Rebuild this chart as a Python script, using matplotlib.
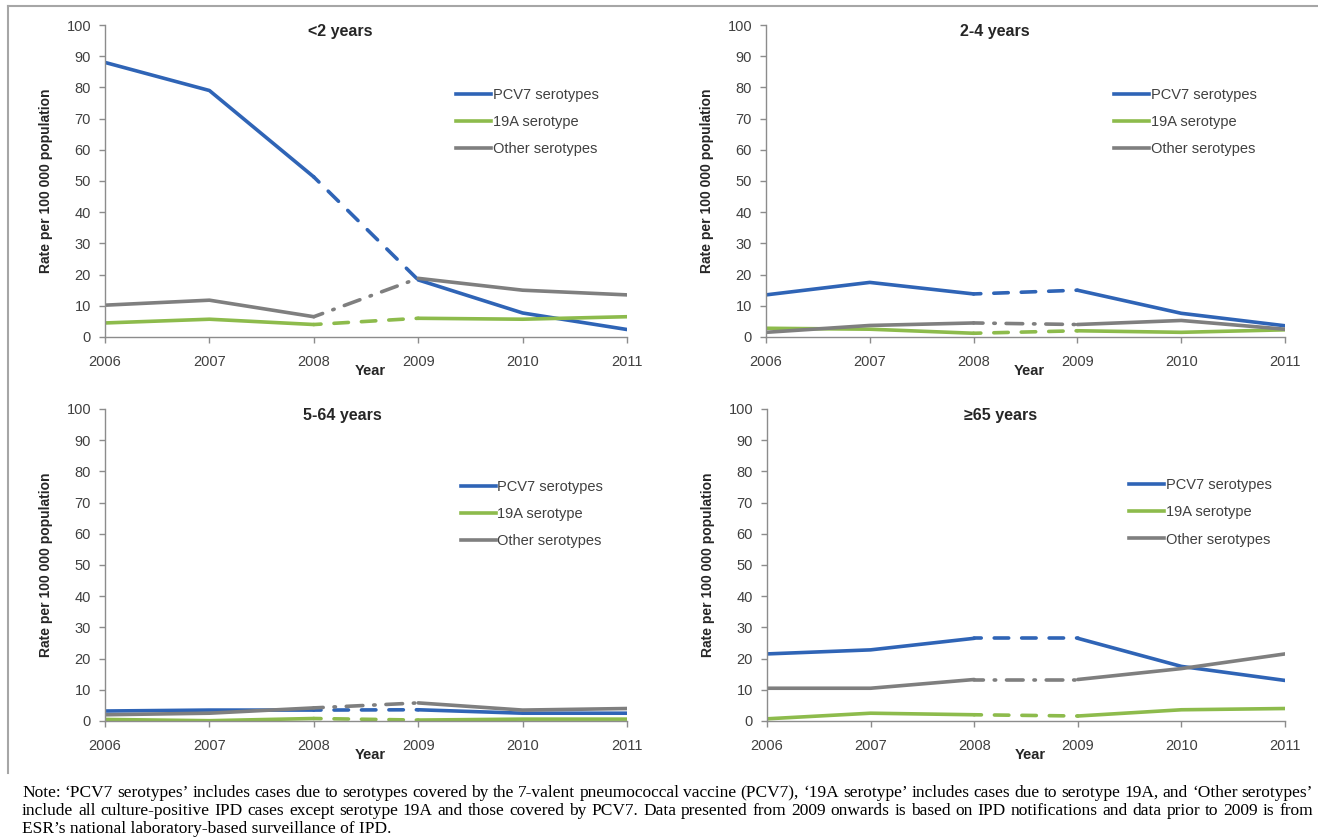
"""
Invasive pneumococcal disease rates by serotype group and age group, 2006-2011.
"""

import matplotlib

matplotlib.use("Agg")
import matplotlib.pyplot as plt
from matplotlib.lines import Line2D

# ---- data (rate per 100 000 population) ----
years = [2006, 2007, 2008, 2009, 2010, 2011]
series_names = ["PCV7 serotypes", "19A serotype", "Other serotypes"]
panel_titles = ["<2 years", "2-4 years", "5-64 years", "\u226565 years"]

pcv7_u2 = [88.0, 79.0, 51.3, 18.3, 7.7, 2.4]
s19a_u2 = [4.5, 5.7, 4.0, 6.0, 5.7, 6.5]
other_u2 = [10.2, 11.8, 6.5, 18.8, 15.0, 13.5]

pcv7_2_4 = [13.5, 17.5, 13.8, 15.0, 7.6, 3.6]
s19a_2_4 = [2.8, 2.5, 1.2, 2.0, 1.5, 2.3]
other_2_4 = [1.5, 3.7, 4.5, 4.0, 5.3, 2.5]

pcv7_5_64 = [3.2, 3.5, 3.5, 3.6, 2.5, 2.5]
s19a_5_64 = [0.5, 0.1, 0.8, 0.3, 0.6, 0.6]
other_5_64 = [2.0, 2.5, 4.2, 5.8, 3.5, 4.0]

pcv7_65 = [21.5, 22.8, 26.5, 26.5, 17.5, 13.0]
s19a_65 = [0.7, 2.5, 2.0, 1.6, 3.6, 4.0]
other_65 = [10.5, 10.5, 13.3, 13.3, 16.8, 21.5]

note_lines = [
    "Note: \u2018PCV7 serotypes\u2019 includes cases due to serotypes covered by the 7-valent "
    "pneumococcal vaccine (PCV7), \u201819A serotype\u2019 includes cases due to serotype 19A, "
    "and \u2018Other serotypes\u2019",
    "include all culture-positive IPD cases except serotype 19A and those covered by PCV7. "
    "Data presented from 2009 onwards is based on IPD notifications and data prior to 2009 is from",
    "ESR\u2019s national laboratory-based surveillance of IPD.",
]

panels = [
    [pcv7_u2, s19a_u2, other_u2],
    [pcv7_2_4, s19a_2_4, other_2_4],
    [pcv7_5_64, s19a_5_64, other_5_64],
    [pcv7_65, s19a_65, other_65],
]

# ---- styles ----
W, H = 1318, 839
colors = ["#2F64B6", "#8DBB4C", "#7F7F7F"]
gap_styles = [(2, (4.0, 3.6)), (2, (4.0, 3.6)), (2, (4.6, 3.0, 0.4, 3.0))]
axis_col = "#8C8C8C"
text_col = "#404040"
LW = 2.6
plt.rcParams["font.family"] = ["Liberation Sans", "DejaVu Sans"]

# axes boxes in pixels: (x of 2006, x of 2011, y of 0, y of 100)
boxes = [
    (105, 627, 337, 25),
    (766, 1285, 337, 25),
    (105, 627, 721, 409),
    (767, 1285, 721, 409),
]
title_x = [0.45, 0.44, 0.455, 0.45]
legend_xy = [(0.648, 0.84), (0.646, 0.84), (0.656, 0.815), (0.674, 0.82)]


def plot_panel(ax, data, title, tx, lxy):
    gap_i = years.index(2008)
    for vals, col, gs in zip(data, colors, gap_styles):
        ax.plot(years[: gap_i + 1], vals[: gap_i + 1], color=col, lw=LW,
                solid_capstyle="round", solid_joinstyle="round")
        ax.plot(years[gap_i:gap_i + 2], vals[gap_i:gap_i + 2], color=col, lw=LW,
                linestyle=gs, dash_capstyle="round")
        ax.plot(years[gap_i + 1:], vals[gap_i + 1:], color=col, lw=LW,
                solid_capstyle="round", solid_joinstyle="round")

    ax.set_xlim(years[0], years[-1])
    ax.set_ylim(0, 100)
    ax.set_xticks(years)
    ax.set_yticks(range(0, 101, 10))
    for side in ["top", "right"]:
        ax.spines[side].set_visible(False)
    for side in ["left", "bottom"]:
        ax.spines[side].set_color(axis_col)
        ax.spines[side].set_linewidth(1.0)
    ax.tick_params(colors=axis_col, labelcolor=text_col, labelsize=10.5,
                   length=4, width=1.0)
    ax.tick_params(axis="x", pad=9)
    ax.tick_params(axis="y", pad=6)

    ax.text(tx, 0.978, title, transform=ax.transAxes, ha="center", va="center",
            fontsize=11.5, fontweight="bold", color="#262626")
    ax.set_ylabel("Rate per 100 000 population", fontsize=10, fontweight="bold",
                  color="#262626", labelpad=10)
    ax.text(0.508, -0.11, "Year", transform=ax.transAxes, ha="center",
            va="center", fontsize=10.5, fontweight="bold", color="#262626")

    handles = [Line2D([0], [0], color=c, lw=LW) for c in colors]
    ax.legend(handles, series_names, loc="upper left", bbox_to_anchor=lxy,
              frameon=False, fontsize=10.5, handlelength=2.4, handletextpad=0.1,
              labelspacing=0.9, labelcolor=text_col)


fig = plt.figure(figsize=(W / 100, H / 100), dpi=100)

for data, title, box, tx, lxy in zip(panels, panel_titles, boxes, title_x, legend_xy):
    x0, x1, y0, y1 = box
    ax = fig.add_axes([x0 / W, 1 - y0 / H, (x1 - x0) / W, (y0 - y1) / H])
    plot_panel(ax, data, title, tx, lxy)

# grey frame round the chart area (top and left edges are visible)
frame_kw = dict(transform=fig.transFigure, color="#A6A6A6", lw=1.5)
fig.add_artist(Line2D([8 / W, 1.0], [1 - 6 / H, 1 - 6 / H], **frame_kw))
fig.add_artist(Line2D([8 / W, 8 / W], [1 - 6 / H, 1 - 773 / H], **frame_kw))

# note under the chart, justified like the original
renderer = fig.canvas.get_renderer()
note_left, note_right = 22, 1313
note_y = [797, 815, 833]


def word_widths(words, kw):
    out = []
    for w in words:
        t = fig.text(0, 0, w, **kw)
        out.append(t.get_window_extent(renderer).width)
        t.remove()
    return out


note_size = 12.5
while True:
    note_kw = dict(fontsize=note_size, family="Liberation Serif", color="black",
                   va="baseline")
    worst = min(
        (note_right - note_left - sum(word_widths(l.split(), note_kw))) / (len(l.split()) - 1)
        for l in note_lines[:2]
    )
    if worst >= 3 or note_size <= 9:
        break
    note_size -= 0.25

for i, (line, ypx) in enumerate(zip(note_lines, note_y)):
    if i == len(note_lines) - 1:
        fig.text(note_left / W, 1 - ypx / H, line, **note_kw)
        continue
    words = line.split()
    widths = word_widths(words, note_kw)
    gap = (note_right - note_left - sum(widths)) / (len(words) - 1)
    x = note_left
    for w, wd in zip(words, widths):
        fig.text(x / W, 1 - ypx / H, w, **note_kw)
        x += wd + gap

fig.savefig("out.png", dpi=100)
